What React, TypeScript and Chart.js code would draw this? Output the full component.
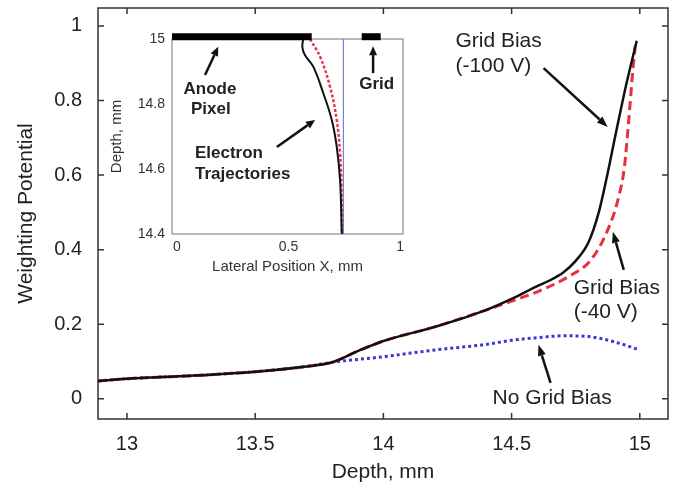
import React, { useEffect, useRef } from "react";
import { Chart, registerables } from "chart.js";

Chart.register(...registerables);

const FONT = '"Liberation Sans", Arial, Helvetica, sans-serif';
const TEXT = "#222";

// ---------- main chart data ----------
const mainXTicks = [13, 13.5, 14, 14.5, 15];
const mainYTicks = [0, 0.2, 0.4, 0.6, 0.8, 1];

const depthBias100 = [12.887, 13.0, 13.25, 13.5, 13.7, 13.8, 13.9, 14.0, 14.2, 14.4, 14.5, 14.6, 14.65, 14.7, 14.75, 14.8, 14.84, 14.87, 14.9, 14.945, 14.988];
const wpBias100 = [0.048, 0.054, 0.062, 0.073, 0.087, 0.098, 0.128, 0.155, 0.193, 0.238, 0.268, 0.302, 0.318, 0.338, 0.37, 0.42, 0.5, 0.59, 0.69, 0.836, 0.96];

const depthBias40 = [12.887, 13.0, 13.25, 13.5, 13.7, 13.8, 13.9, 14.0, 14.2, 14.4, 14.5, 14.6, 14.72, 14.81, 14.875, 14.915, 14.94, 14.957, 14.973, 14.984];
const wpBias40 = [0.048, 0.054, 0.062, 0.073, 0.087, 0.098, 0.128, 0.155, 0.193, 0.238, 0.262, 0.287, 0.327, 0.373, 0.453, 0.534, 0.622, 0.748, 0.882, 0.957];

const depthNoBias = [12.887, 13.0, 13.25, 13.5, 13.7, 13.8, 14.0, 14.2, 14.4, 14.5, 14.6, 14.7, 14.8, 14.9, 15.0];
const wpNoBias = [0.048, 0.054, 0.062, 0.073, 0.087, 0.098, 0.113, 0.131, 0.146, 0.157, 0.164, 0.169, 0.167, 0.153, 0.131];

const mainLabels = [
  { text: "Grid Bias", x: 14.281, y: 0.96, align: "left" },
  { text: "(-100 V)", x: 14.281, y: 0.893, align: "left" },
  { text: "Grid Bias", x: 14.742, y: 0.298, align: "left" },
  { text: "(-40 V)", x: 14.742, y: 0.233, align: "left" },
  { text: "No Grid Bias", x: 14.426, y: 0.003, align: "left" },
];
// [tailX, tailY, headX, headY]
const mainArrows = [
  [14.625, 0.887, 14.875, 0.729],
  [14.9375, 0.346, 14.895, 0.448],
  [14.652, 0.043, 14.605, 0.145],
];

// ---------- inset data ----------
const insetXTicks = [0, 0.5, 1];
const insetYTicks = [14.4, 14.6, 14.8, 15];

const trajBlackX = [0.566, 0.562, 0.574, 0.611, 0.656, 0.694, 0.716, 0.731, 0.739];
const trajBlackY = [15.0, 14.975, 14.95, 14.915, 14.833, 14.751, 14.669, 14.566, 14.4];

const trajRedX = [0.596, 0.641, 0.686, 0.716, 0.731, 0.737, 0.739];
const trajRedY = [15.0, 14.946, 14.853, 14.751, 14.649, 14.55, 14.4];

const anodeX = [-0.022, 0.604];
const gridX = [0.828, 0.913];
const barY = 15.007;
const gridLineX = 0.746;
const insetYRange = [14.4, 15];

const insetLabels = [
  { text: "Anode", x: 0.148, y: 14.846, align: "center" },
  { text: "Pixel", x: 0.152, y: 14.785, align: "center" },
  { text: "Grid", x: 0.895, y: 14.862, align: "center" },
  { text: "Electron", x: 0.081, y: 14.649, align: "left" },
  { text: "Trajectories", x: 0.081, y: 14.585, align: "left" },
];
const insetArrows = [
  [0.126, 14.889, 0.185, 14.976],
  [0.879, 14.895, 0.879, 14.978],
  [0.448, 14.668, 0.619, 14.751],
];

const pts = (xs: number[], ys: number[]) => xs.map((x, i) => ({ x, y: ys[i] }));

function drawArrow(ctx: CanvasRenderingContext2D, x1: number, y1: number, x2: number, y2: number, w: number, hl: number, hw: number) {
  const ang = Math.atan2(y2 - y1, x2 - x1);
  const bx = x2 - hl * Math.cos(ang);
  const by = y2 - hl * Math.sin(ang);
  ctx.lineWidth = w;
  ctx.beginPath();
  ctx.moveTo(x1, y1);
  ctx.lineTo(bx, by);
  ctx.stroke();
  ctx.beginPath();
  ctx.moveTo(x2, y2);
  ctx.lineTo(bx + (hw / 2) * Math.sin(ang), by - (hw / 2) * Math.cos(ang));
  ctx.lineTo(bx - (hw / 2) * Math.sin(ang), by + (hw / 2) * Math.cos(ang));
  ctx.closePath();
  ctx.fill();
}

function makeAnnotate(id: string, labels: any[], arrows: number[][], font: string, aw: number, hl: number, hw: number) {
  return {
    id,
    afterDatasetsDraw(chart: any) {
      const { ctx } = chart;
      const xs = chart.scales.x;
      const ys = chart.scales.y;
      ctx.save();
      ctx.strokeStyle = "#111";
      ctx.fillStyle = "#111";
      ctx.lineCap = "butt";
      for (const a of arrows) {
        drawArrow(ctx, xs.getPixelForValue(a[0]), ys.getPixelForValue(a[1]), xs.getPixelForValue(a[2]), ys.getPixelForValue(a[3]), aw, hl, hw);
      }
      ctx.font = font;
      ctx.fillStyle = TEXT;
      ctx.textBaseline = "middle";
      for (const l of labels) {
        ctx.textAlign = l.align;
        ctx.fillText(l.text, xs.getPixelForValue(l.x), ys.getPixelForValue(l.y));
      }
      ctx.restore();
    },
  };
}

function makeFrame(id: string, color: string, width: number, tick: number, xt: number[], yt: number[]) {
  return {
    id,
    beforeDatasetsDraw(chart: any) {
      const { ctx, chartArea } = chart;
      const { left, right, top, bottom } = chartArea;
      const xs = chart.scales.x;
      const ys = chart.scales.y;
      ctx.save();
      ctx.strokeStyle = color;
      ctx.lineWidth = width;
      ctx.strokeRect(left, top, right - left, bottom - top);
      if (tick > 0) {
        ctx.beginPath();
        for (const v of xt) {
          const p = xs.getPixelForValue(v);
          ctx.moveTo(p, bottom);
          ctx.lineTo(p, bottom - tick);
          ctx.moveTo(p, top);
          ctx.lineTo(p, top + tick);
        }
        for (const v of yt) {
          const p = ys.getPixelForValue(v);
          ctx.moveTo(left, p);
          ctx.lineTo(left + tick, p);
          ctx.moveTo(right, p);
          ctx.lineTo(right - tick, p);
        }
        ctx.stroke();
      }
      ctx.restore();
    },
  };
}

const fixX = (h: number) => (s: any) => {
  s.height = h;
  s.paddingLeft = 0;
  s.paddingRight = 0;
  s.paddingTop = 0;
  s.paddingBottom = 0;
};
const fixY = (w: number) => (s: any) => {
  s.width = w;
  s.paddingLeft = 0;
  s.paddingRight = 0;
  s.paddingTop = 0;
  s.paddingBottom = 0;
};

export default function App() {
  const mainRef = useRef<HTMLCanvasElement>(null);
  const insetRef = useRef<HTMLCanvasElement>(null);

  useEffect(() => {
    document.body.style.margin = "0";
    const main = new Chart(mainRef.current!, {
      type: "scatter",
      data: {
        datasets: [
          { data: pts(depthBias100, wpBias100), showLine: true, borderColor: "#111", borderWidth: 2.5, pointRadius: 0, cubicInterpolationMode: "monotone" },
          { data: pts(depthBias40, wpBias40), showLine: true, borderColor: "#e8303c", borderWidth: 3, borderDash: [9, 5], pointRadius: 0, cubicInterpolationMode: "monotone" },
          { data: pts(depthNoBias, wpNoBias), showLine: true, borderColor: "#3a3ad2", borderWidth: 3, borderDash: [3, 3], pointRadius: 0, cubicInterpolationMode: "monotone" },
        ],
      } as any,
      options: {
        responsive: false,
        animation: false,
        devicePixelRatio: 1,
        layout: { padding: { top: 8, right: 8, left: 0, bottom: 0 } },
        plugins: { legend: { display: false }, tooltip: { enabled: false } },
        scales: {
          x: {
            type: "linear",
            min: 12.887,
            max: 15.11,
            grid: { display: false, drawTicks: false },
            border: { display: false },
            afterBuildTicks: (s: any) => { s.ticks = mainXTicks.map((v) => ({ value: v })); },
            afterFit: fixX(68),
            ticks: { autoSkip: false, maxRotation: 0, padding: 13, color: TEXT, font: { family: FONT, size: 20 }, callback: (v: any) => String(v) },
            title: { display: true, text: "Depth, mm", color: TEXT, font: { family: FONT, size: 21 }, padding: { top: 0, bottom: 2 } },
          },
          y: {
            type: "linear",
            min: -0.054,
            max: 1.048,
            grid: { display: false, drawTicks: false },
            border: { display: false },
            afterBuildTicks: (s: any) => { s.ticks = mainYTicks.map((v) => ({ value: v })); },
            afterFit: fixY(98),
            ticks: { autoSkip: false, padding: 16, color: TEXT, font: { family: FONT, size: 20 }, callback: (v: any) => String(v) },
            title: { display: true, text: "Weighting Potential", color: TEXT, font: { family: FONT, size: 21 }, padding: { top: 14, bottom: 0 } },
          },
        },
      } as any,
      plugins: [
        makeFrame("mainFrame", "#333", 1.5, 6, mainXTicks, mainYTicks),
        makeAnnotate("mainAnno", mainLabels, mainArrows, `21px ${FONT}`, 2.5, 11, 8),
      ],
    });

    const inset = new Chart(insetRef.current!, {
      type: "scatter",
      data: {
        datasets: [
          { data: anodeX.map((x) => ({ x, y: barY })), showLine: true, borderColor: "#000", borderWidth: 7, pointRadius: 0, clip: false },
          { data: gridX.map((x) => ({ x, y: barY })), showLine: true, borderColor: "#000", borderWidth: 7, pointRadius: 0, clip: false },
          { data: pts(trajBlackX, trajBlackY), showLine: true, borderColor: "#111", borderWidth: 2, pointRadius: 0, tension: 0.4 },
          { data: pts(trajRedX, trajRedY), showLine: true, borderColor: "#e23a4a", borderWidth: 2.5, borderDash: [3, 2], pointRadius: 0, tension: 0.4 },
          { data: insetYRange.map((y) => ({ x: gridLineX, y })), showLine: true, borderColor: "#6f80e0", borderWidth: 1.2, pointRadius: 0 },
        ],
      } as any,
      options: {
        responsive: false,
        animation: false,
        devicePixelRatio: 1,
        layout: { padding: { top: 13, right: 9, left: 0, bottom: 0 } },
        plugins: { legend: { display: false }, tooltip: { enabled: false } },
        scales: {
          x: {
            type: "linear",
            min: -0.022,
            max: 1.013,
            grid: { display: false, drawTicks: false },
            border: { display: false },
            afterBuildTicks: (s: any) => { s.ticks = insetXTicks.map((v) => ({ value: v })); },
            afterFit: fixX(48),
            ticks: { autoSkip: false, maxRotation: 0, padding: 5, color: "#333", font: { family: FONT, size: 14 }, callback: (v: any) => String(v) },
            title: { display: true, text: "Lateral Position X, mm", color: "#333", font: { family: FONT, size: 15 }, padding: { top: 0, bottom: 6 } },
          },
          y: {
            type: "linear",
            min: 14.4,
            max: 15,
            grid: { display: false, drawTicks: false },
            border: { display: false },
            afterBuildTicks: (s: any) => { s.ticks = insetYTicks.map((v) => ({ value: v })); },
            afterFit: fixY(66),
            ticks: { autoSkip: false, padding: 7, color: "#333", font: { family: FONT, size: 14 }, callback: (v: any) => String(v) },
            title: { display: true, text: "Depth, mm", color: "#333", font: { family: FONT, size: 15 }, padding: { top: 2, bottom: 0 } },
          },
        },
      } as any,
      plugins: [
        makeFrame("insetFrame", "#777", 1, 0, insetXTicks, insetYTicks),
        makeAnnotate("insetAnno", insetLabels, insetArrows, `bold 17px ${FONT}`, 2.5, 9, 8),
      ],
    });

    return () => {
      main.destroy();
      inset.destroy();
    };
  }, []);

  return (
    <div style={{ position: "relative", width: 676, height: 487, background: "#fff" }}>
      <canvas ref={mainRef} width={676} height={487} style={{ position: "absolute", left: 0, top: 0, display: "block" }} />
      <canvas ref={insetRef} width={306} height={256} style={{ position: "absolute", left: 106, top: 26, display: "block" }} />
    </div>
  );
}
